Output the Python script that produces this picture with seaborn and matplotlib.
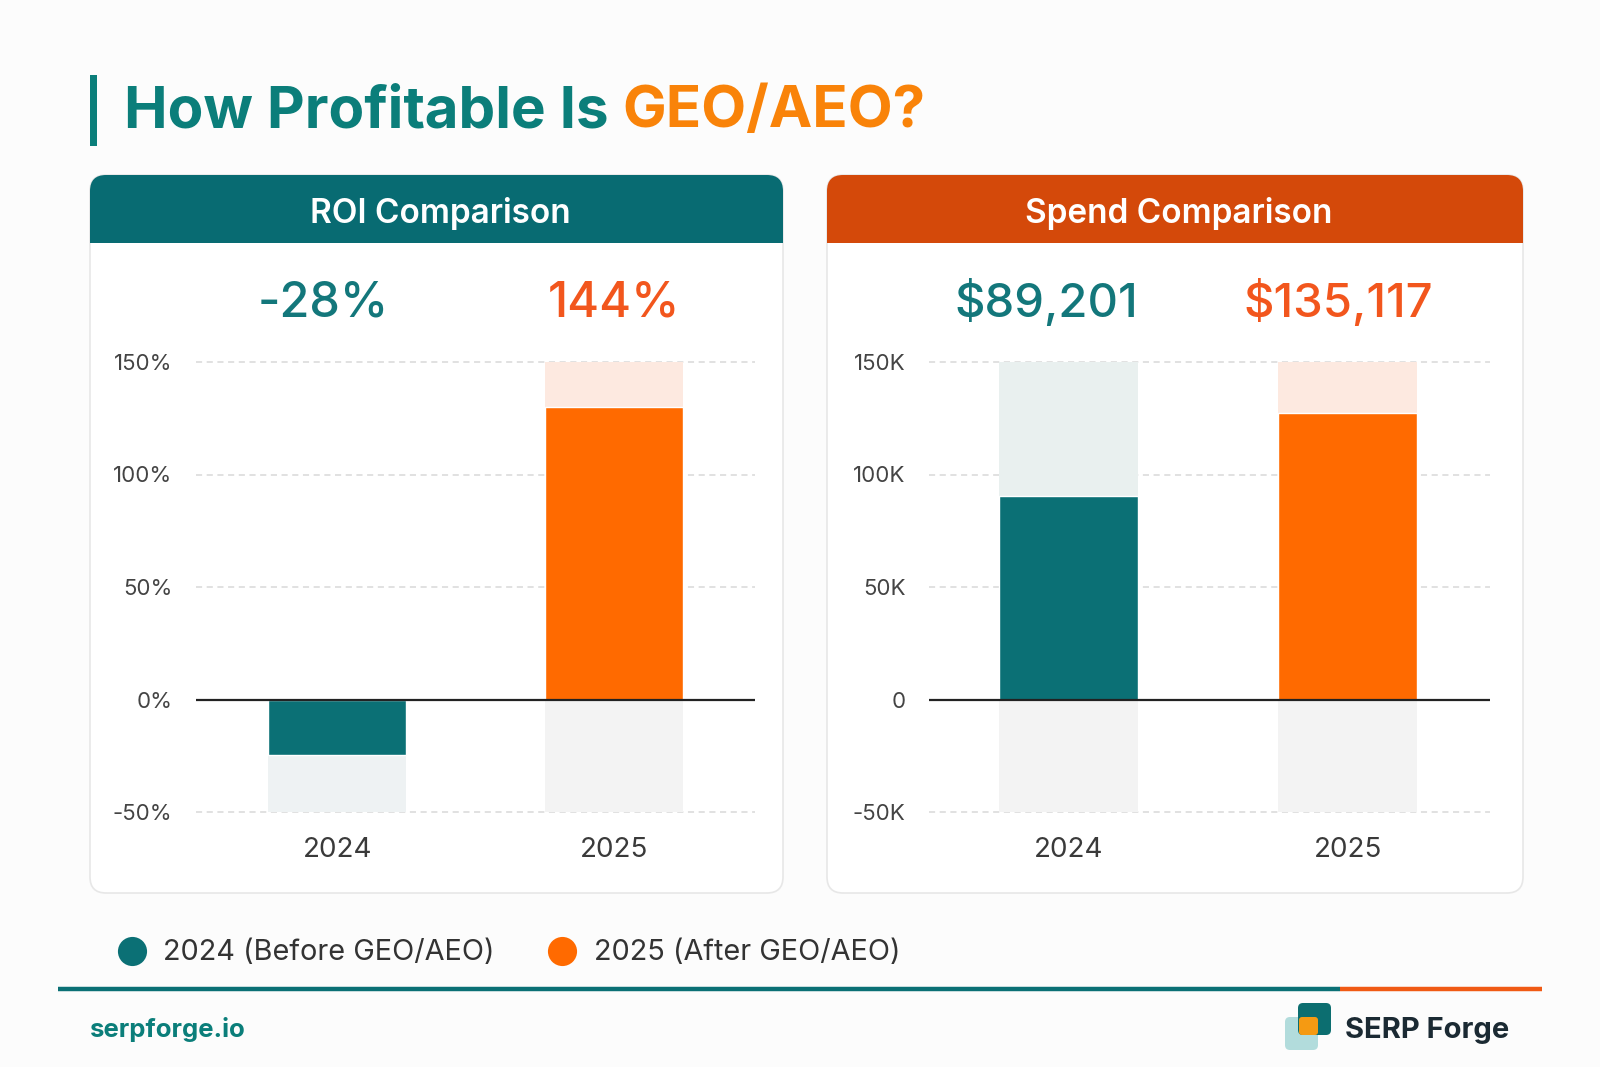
import matplotlib
matplotlib.use("Agg")
import matplotlib.pyplot as plt
import matplotlib.transforms as mtransforms
from matplotlib.patches import FancyBboxPatch, Rectangle
import seaborn as sns
import pandas as pd

# ---------------- data ----------------
years = ["2024", "2025"]
roi_values = [-24.5, 130.0]          # bar heights as drawn (%)
roi_labels = ["-28%", "144%"]
spend_values = [90500, 127500]       # bar heights as drawn ($)
spend_labels = ["$89,201", "$135,117"]
roi_ticks = [-50, 0, 50, 100, 150]
roi_ticklabels = ["-50%", "0%", "50%", "100%", "150%"]
spend_ticks = [-50000, 0, 50000, 100000, 150000]
spend_ticklabels = ["-50K", "0", "50K", "100K", "150K"]
legend_labels = ["2024 (Before GEO/AEO)", "2025 (After GEO/AEO)"]
panel_titles = ["ROI Comparison", "Spend Comparison"]
title_parts = ["How Profitable Is ", "GEO/AEO?"]
footer_site = "serpforge.io"
brand_name = "SERP Forge"

# ---------------- style ----------------
BG = "#fcfcfc"
TEAL = "#0b7075"
ORANGE = "#ff6a00"
TEAL_HEAD = "#086b72"
ORANGE_HEAD = "#d4490a"
TITLE_TEAL = "#0b7e7a"
TITLE_ORANGE = "#f98309"
LABEL_TEAL = "#13777b"
LABEL_ORANGE = "#f2561d"
TEAL_TINT = "#e9f0ef"
TEAL_TINT_LOW = "#eef2f3"
ORANGE_TINT = "#fde9e0"
GRAY_TRACK = "#f3f3f3"

sns.set_theme(style="white")
plt.rcParams['font.family'] = ['Inter', 'DejaVu Sans']

W, H = 1600, 1067
fig = plt.figure(figsize=(16, 10.67), dpi=100, facecolor=BG)

# overlay in pixel coordinates
ov = fig.add_axes([0, 0, 1, 1], zorder=0)
ov.set_xlim(0, W)
ov.set_ylim(H, 0)
ov.axis('off')
ov.patch.set_alpha(0)


def px_axes(x0, y0, x1, y1):
    return fig.add_axes([x0 / W, 1 - y1 / H, (x1 - x0) / W, (y1 - y0) / H], zorder=2)


# ---------------- title ----------------
ov.add_patch(Rectangle((90, 75), 7, 71, color=TITLE_TEAL, lw=0))
t1 = ov.text(124, 112, title_parts[0], color=TITLE_TEAL, fontsize=42,
             fontweight='bold', va='center', ha='left')
fig.canvas.draw()
r = fig.canvas.get_renderer()
bb = t1.get_window_extent(r)
t2 = ov.text(124 + bb.width, 112, title_parts[1], color=TITLE_ORANGE, fontsize=42,
             fontweight='bold', va='center', ha='left')

# ---------------- cards ----------------
cards = [(90, 783, TEAL_HEAD), (827, 1523, ORANGE_HEAD)]
for (x0, x1, hc), ttl in zip(cards, panel_titles):
    ov.add_patch(FancyBboxPatch((x0, 175), x1 - x0, 893 - 175,
                                boxstyle="round,pad=0,rounding_size=16",
                                fc="white", ec="#e7e7e7", lw=1.2))
    ov.add_patch(FancyBboxPatch((x0, 175), x1 - x0, 68,
                                boxstyle="round,pad=0,rounding_size=16",
                                fc=hc, ec="none", lw=0))
    ov.add_patch(Rectangle((x0, 209), x1 - x0, 34, fc=hc, ec="none", lw=0))
    ov.text((x0 + x1) / 2 + 4, 214, ttl, color="white", fontsize=24,
            fontweight='semibold', ha='center', va='center')


# ---------------- panels ----------------
def panel(ax, values, labels, ticks, ticklabels, colors, tints, low_tints, xlim, label_dx, lsize):
    lo, hi = ticks[0], ticks[-1]
    df = pd.DataFrame({"year": years, "value": values})
    sns.barplot(data=df, x="year", y="value", hue="year", palette=colors,
                width=0.5, saturation=1, legend=False, ax=ax, zorder=3)
    for i, v in enumerate(values):
        if v >= 0:
            ax.bar(i, hi - v, bottom=v, width=0.5, color=tints[i], zorder=1, lw=0)
            ax.bar(i, 0 - lo, bottom=lo, width=0.5, color=GRAY_TRACK, zorder=1, lw=0)
        else:
            ax.bar(i, v - lo, bottom=lo, width=0.5, color=low_tints[i], zorder=1, lw=0)
    for t in ticks:
        if t != 0:
            ax.axhline(t, color="#d8d8d8", lw=1.1, ls=(0, (4, 3)), zorder=0.5, clip_on=False)
    ax.axhline(0, color="#222222", lw=1.6, zorder=4)
    ax.set_xlim(*xlim)
    ax.set_ylim(lo, hi)
    ax.set_yticks(ticks)
    ax.set_yticklabels(ticklabels)
    ax.set_xlabel("")
    ax.set_ylabel("")
    ax.tick_params(axis='y', length=0, pad=17, labelsize=16, labelcolor="#444444")
    ax.tick_params(axis='x', length=0, pad=18, labelsize=20, labelcolor="#3a3a3a")
    for s in ax.spines.values():
        s.set_visible(False)
    ax.patch.set_alpha(0)
    ax.grid(False)
    trans = mtransforms.blended_transform_factory(ax.transData, ax.transAxes)
    lcols = [LABEL_TEAL, LABEL_ORANGE]
    for i, lab in enumerate(labels):
        ax.text(i + label_dx[i], 1.13, lab, transform=trans, ha='center', va='center',
                fontsize=lsize, color=lcols[i], fontweight='medium')


ax1 = px_axes(196, 362, 755, 812)
panel(ax1, roi_values, roi_labels, roi_ticks, roi_ticklabels, [TEAL, ORANGE],
      [TEAL_TINT, ORANGE_TINT], [TEAL_TINT_LOW, GRAY_TRACK], (-0.51, 1.51), [-0.05, 0.0], 35)

ax2 = px_axes(929, 362, 1490, 812)
panel(ax2, spend_values, spend_labels, spend_ticks, spend_ticklabels, [TEAL, ORANGE],
      [TEAL_TINT, ORANGE_TINT], [TEAL_TINT_LOW, GRAY_TRACK], (-0.5, 1.51), [-0.08, -0.035], 34)

# ---------------- legend ----------------
leg_x = [(132, 163), (562, 594)]
for (cx, tx), lab, c in zip(leg_x, legend_labels, [TEAL, ORANGE]):
    ov.scatter([cx], [951], s=440, color=c, lw=0)
    ov.text(tx, 953, lab, fontsize=20.8, color="#333333", ha='left', va='center')

# ---------------- footer ----------------
ov.plot([58, 1340], [989, 989], color=TEAL, lw=3.2, solid_capstyle='butt')
ov.plot([1340, 1542], [989, 989], color="#f05a14", lw=3.2, solid_capstyle='butt')
ov.text(90, 1029, footer_site, fontsize=18.5, fontweight='bold', color=TITLE_TEAL,
        ha='left', va='center')
ov.add_patch(FancyBboxPatch((1285, 1017), 33, 33, boxstyle="round,pad=0,rounding_size=5",
                            fc="#b2dcdc", ec="none"))
ov.add_patch(FancyBboxPatch((1298, 1003), 33, 32, boxstyle="round,pad=0,rounding_size=5",
                            fc="#0c6e70", ec="none"))
ov.add_patch(FancyBboxPatch((1299, 1017), 19, 18, boxstyle="round,pad=0,rounding_size=3",
                            fc="#f59a12", ec="none"))
ov.text(1345, 1031, brand_name, fontsize=21, fontweight='bold', color="#1b2a33",
        ha='left', va='center')

fig.savefig("out.png", dpi=100, facecolor=BG)
